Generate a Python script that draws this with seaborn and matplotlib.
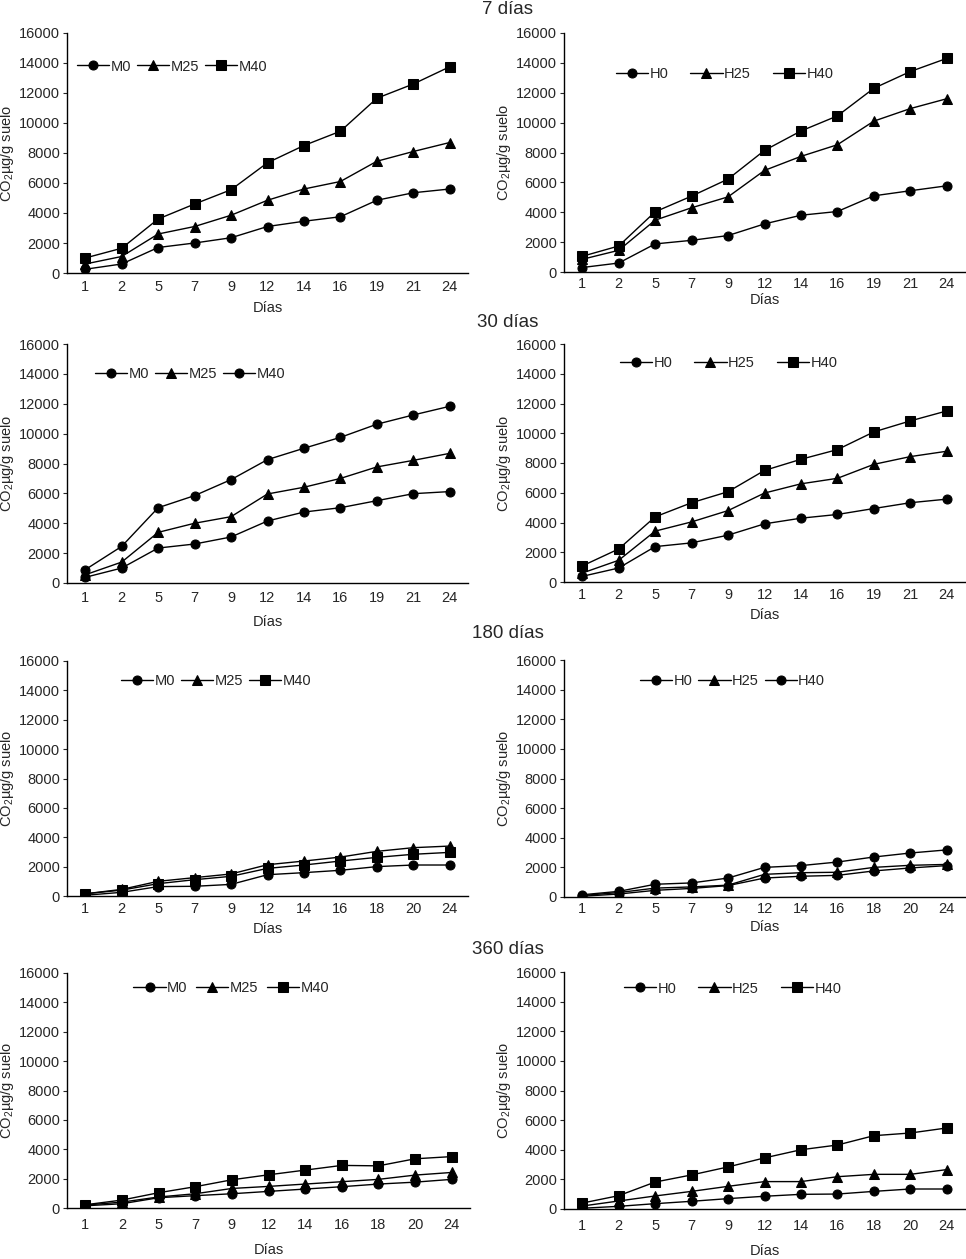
import pandas as pd
import matplotlib.pyplot as plt
import seaborn as sns

# Days (x categories)
days_a = ['1', '2', '5', '7', '9', '12', '14', '16', '19', '21', '24']
days_b = ['1', '2', '5', '7', '9', '12', '14', '16', '18', '20', '24']

# 7 dias
m0_7 = [250, 600, 1700, 2000, 2350, 3100, 3450, 3750, 4850, 5350, 5600]
m25_7 = [600, 1100, 2600, 3100, 3850, 4850, 5600, 6100, 7450, 8100, 8700]
m40_7 = [1000, 1650, 3600, 4600, 5550, 7350, 8500, 9450, 11650, 12600, 13750]
h0_7 = [300, 600, 1880, 2120, 2440, 3220, 3800, 4050, 5100, 5440, 5770]
h25_7 = [850, 1450, 3470, 4300, 5030, 6800, 7740, 8520, 10100, 10940, 11600]
h40_7 = [1050, 1740, 4030, 5080, 6220, 8140, 9440, 10450, 12300, 13420, 14300]

# 30 dias
m0_30 = [380, 1000, 2340, 2610, 3080, 4150, 4750, 5040, 5510, 5980, 6120]
m25_30 = [550, 1400, 3390, 4000, 4440, 5960, 6410, 7000, 7770, 8210, 8680]
m40_30 = [890, 2450, 5040, 5850, 6920, 8260, 9020, 9750, 10630, 11250, 11830]
h0_30 = [380, 940, 2380, 2630, 3150, 3910, 4290, 4540, 4940, 5330, 5570]
h25_30 = [600, 1460, 3420, 4040, 4800, 5980, 6600, 6970, 7910, 8430, 8790]
h40_30 = [1080, 2220, 4380, 5330, 6070, 7500, 8250, 8900, 10090, 10830, 11500]

# 180 dias
m0_180 = [50, 250, 640, 660, 790, 1450, 1590, 1750, 2000, 2110, 2110]
m25_180 = [150, 450, 1000, 1250, 1500, 2130, 2380, 2650, 3040, 3290, 3400]
m40_180 = [150, 400, 840, 1110, 1340, 1880, 2110, 2380, 2630, 2840, 2970]
h0_180 = [50, 200, 450, 580, 770, 1280, 1400, 1460, 1760, 1960, 2120]
h25_180 = [100, 300, 600, 680, 800, 1530, 1640, 1670, 2000, 2140, 2200]
h40_180 = [150, 380, 860, 950, 1280, 2000, 2120, 2360, 2700, 2970, 3180]

# 360 dias
m0_360 = [150, 290, 700, 840, 970, 1130, 1290, 1450, 1630, 1760, 1950]
m25_360 = [200, 400, 750, 970, 1330, 1470, 1630, 1790, 1950, 2240, 2420]
m40_360 = [220, 540, 1040, 1450, 1920, 2260, 2580, 2900, 2870, 3350, 3500]
h0_360 = [50, 180, 360, 520, 700, 860, 990, 1010, 1190, 1350, 1350]
h25_360 = [200, 540, 880, 1190, 1530, 1850, 1850, 2180, 2340, 2340, 2660]
h40_360 = [400, 900, 1820, 2300, 2840, 3450, 4000, 4320, 4950, 5130, 5470]

row_titles = ['7 días', '30 días', '180 días', '360 días']

sns.set_style('white')
plt.rcParams['font.family'] = ['Liberation Sans', 'DejaVu Sans']
plt.rcParams['mathtext.fontset'] = 'custom'
plt.rcParams['mathtext.rm'] = 'Liberation Sans'
plt.rcParams['mathtext.it'] = 'Liberation Sans'

fig = plt.figure(figsize=(9.66, 12.59), dpi=100)
W, H = 966, 1259


def px_axes(left, top, right, bottom):
    return fig.add_axes([left / W, 1 - bottom / H, (right - left) / W, (bottom - top) / H])


# panel geometry in pixels: left, top(16000), right, bottom(0)
panels = [
    dict(box=(67, 33, 468, 273), days=days_a,
         series=[('M0', m0_7, 'o'), ('M25', m25_7, '^'), ('M40', m40_7, 's')],
         leg=(0.025, 0.86), colsp=0.4, tpad=5, xpad=5.2),
    dict(box=(564, 33, 965, 272), days=days_a,
         series=[('H0', h0_7, 'o'), ('H25', h25_7, '^'), ('H40', h40_7, 's')],
         leg=(0.13, 0.83), colsp=1.5, tpad=3.6, xpad=1.5),
    dict(box=(67, 344, 468, 583), days=days_a,
         series=[('M0', m0_30, 'o'), ('M25', m25_30, '^'), ('M40', m40_30, 'o')],
         leg=(0.07, 0.875), colsp=0.4, tpad=6, xpad=7),
    dict(box=(564, 344, 965, 582), days=days_a,
         series=[('H0', h0_30, 'o'), ('H25', h25_30, '^'), ('H40', h40_30, 's')],
         leg=(0.14, 0.92), colsp=1.5, tpad=4.3, xpad=4.4),
    dict(box=(67, 661, 468, 896), days=days_b,
         series=[('M0', m0_180, 'o'), ('M25', m25_180, '^'), ('M40', m40_180, 's')],
         leg=(0.135, 0.915), colsp=0.4, tpad=4.3, xpad=4.4),
    dict(box=(564, 660, 965, 897), days=days_b,
         series=[('H0', h0_180, 'o'), ('H25', h25_180, '^'), ('H40', h40_180, 'o')],
         leg=(0.19, 0.91), colsp=0.4, tpad=3.6, xpad=3.0),
    dict(box=(67, 973, 470, 1208), days=days_b,
         series=[('M0', m0_360, 'o'), ('M25', m25_360, '^'), ('M40', m40_360, 's')],
         leg=(0.165, 0.936), colsp=0.6, tpad=7.2, xpad=7.8),
    dict(box=(564, 972, 965, 1209), days=days_b,
         series=[('H0', h0_360, 'o'), ('H25', h25_360, '^'), ('H40', h40_360, 's')],
         leg=(0.15, 0.93), colsp=1.5, tpad=7.2, xpad=7.6),
]

marker_sizes = {'o': 6.5, '^': 6.5, 's': 7}

for p in panels:
    ax = px_axes(*p['box'])
    for name, vals, mk in p['series']:
        sns.lineplot(x=p['days'], y=vals, ax=ax, color='black', linewidth=1.0,
                     marker=mk, markersize=marker_sizes[mk], markeredgecolor='black',
                     label=name, sort=False)
    ax.set_xlim(-0.5, len(p['days']) - 0.5)
    ax.set_ylim(0, 16000)
    ax.set_yticks(range(0, 16001, 2000))
    for s in ['top', 'right']:
        ax.spines[s].set_visible(False)
    for s in ['left', 'bottom']:
        ax.spines[s].set_color('black')
        ax.spines[s].set_linewidth(1.0)
    ax.tick_params(axis='y', direction='out', length=3, width=0.8, labelsize=10.5, pad=2, left=True)
    ax.tick_params(axis='x', length=0, labelsize=10.5, pad=p['tpad'])
    ax.set_xlabel('Días', fontsize=10.5, labelpad=p['xpad'])
    ax.set_ylabel(r'CO$_\mathrm{2}$µg/g suelo', fontsize=10.5, labelpad=2)
    ax.grid(False)
    ax.legend(loc='center left', bbox_to_anchor=p['leg'], ncol=3, frameon=False,
              fontsize=10.5, handlelength=2.2, handletextpad=0.1,
              columnspacing=p['colsp'], borderaxespad=0, borderpad=0)

title_y = [10, 322, 634, 949]
for t, y in zip(row_titles, title_y):
    fig.text(508 / W, 1 - y / H, t, ha='center', va='center', fontsize=13.5)

fig.savefig('out.png', dpi=100)
